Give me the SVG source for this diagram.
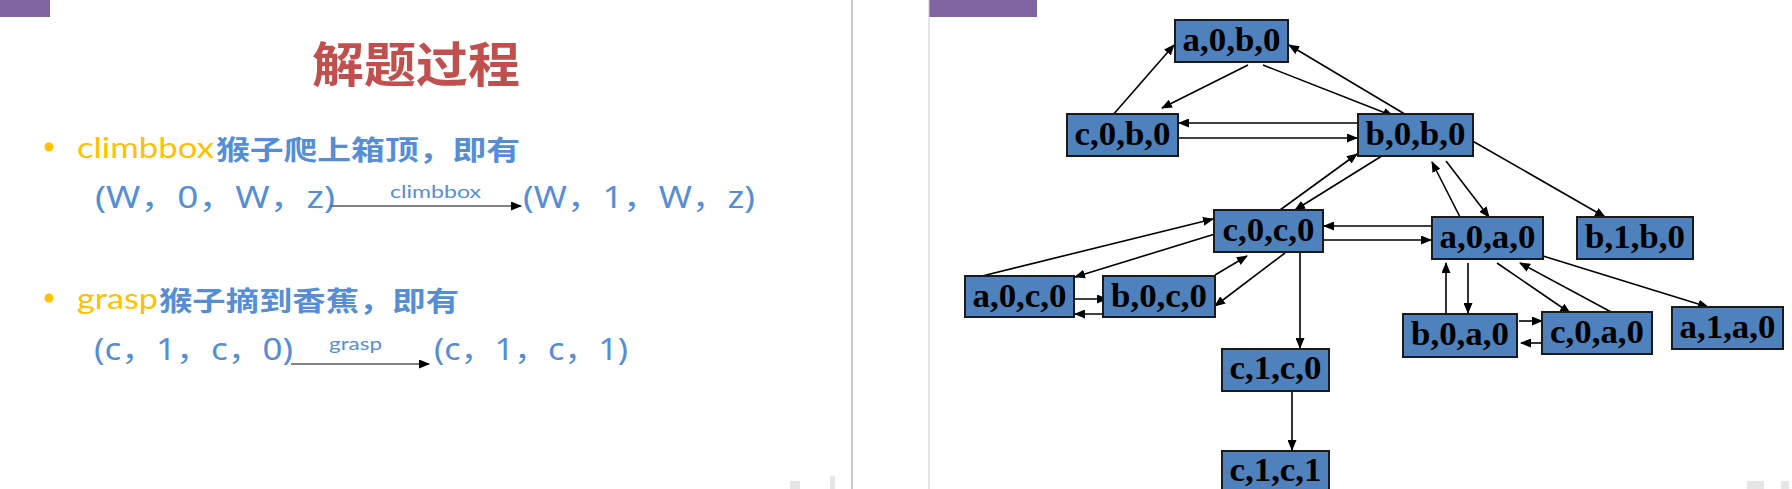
<svg xmlns="http://www.w3.org/2000/svg" width="1792" height="489" viewBox="0 0 1792 489">
<defs>
<marker id="ah" markerUnits="userSpaceOnUse" markerWidth="11" markerHeight="9" refX="10" refY="4.5" orient="auto">
<path d="M0,0 L11,4.5 L0,9 z" fill="#000"/>
</marker>
<style>
.box{fill:#4F81BD;stroke:#1a1a1a;stroke-width:2}
.lbl{font-family:"Liberation Serif","Times New Roman",serif;font-weight:bold;font-size:33px;fill:#000;text-anchor:middle}
.cn line{stroke:#000;stroke-width:1.6;marker-end:url(#ah)}
.blue{fill:#558ED5}
.yel{fill:#FFC000}
.lat{font-family:Lato,"Open Sans","Noto Sans","Noto Sans CJK SC",sans-serif}
.cjk{font-family:"Noto Sans CJK SC","Noto Sans",sans-serif;font-weight:bold}
.tup{font-family:"Noto Sans","Noto Sans CJK SC",sans-serif;font-size:30px}
.sep{stroke:#c8c8c8}
.noise{fill:#b8b8b8;opacity:0.35}
</style>
</defs>
<rect width="1792" height="489" fill="#fff"/>
<!-- slide furniture -->
<rect x="0" y="0" width="50" height="17" fill="#8064A2"/>
<rect x="929" y="0" width="108" height="17" fill="#8064A2"/>
<line class="sep" x1="852" y1="0" x2="852" y2="489" stroke-width="2"/>
<line class="sep" x1="929" y1="0" x2="929" y2="489" stroke-width="1"/>
<rect class="noise" x="790" y="481" width="10" height="8"/>
<rect class="noise" x="830" y="476" width="5" height="13"/>
<rect class="noise" x="1747" y="481" width="17" height="8"/>
<rect class="noise" x="1781" y="481" width="8" height="8"/>

<!-- left slide -->
<g id="left-slide">
<text x="312" y="82" class="cjk" font-size="48" fill="#C0504D" textLength="208" lengthAdjust="spacingAndGlyphs">解题过程</text>
<circle cx="49" cy="147" r="4.5" class="yel"/>
<text x="77" y="158" class="lat yel" font-size="29" textLength="137" lengthAdjust="spacingAndGlyphs">climbbox</text>
<text x="216" y="160" class="cjk blue" font-size="27" textLength="304" lengthAdjust="spacingAndGlyphs">猴子爬上箱顶，即有</text>
<text x="95" y="208" class="tup blue" textLength="240" lengthAdjust="spacingAndGlyphs">(W，0，W，z)</text>
<line x1="331" y1="206" x2="521" y2="206" stroke="#595959" stroke-width="1.3" marker-end="url(#ah)"/>
<text x="390" y="198" class="lat blue" font-size="18" textLength="91" lengthAdjust="spacingAndGlyphs">climbbox</text>
<text x="523" y="208" class="tup blue" textLength="232" lengthAdjust="spacingAndGlyphs">(W，1，W，z)</text>
<circle cx="49" cy="298" r="4.5" class="yel"/>
<text x="77" y="309" class="lat yel" font-size="29" textLength="81" lengthAdjust="spacingAndGlyphs">grasp</text>
<text x="159" y="311" class="cjk blue" font-size="27" textLength="300" lengthAdjust="spacingAndGlyphs">猴子摘到香蕉，即有</text>
<text x="94" y="360" class="tup blue" textLength="199" lengthAdjust="spacingAndGlyphs">(c，1，c，0)</text>
<line x1="291" y1="364" x2="429" y2="364" stroke="#595959" stroke-width="1.3" marker-end="url(#ah)"/>
<text x="329" y="350" class="lat blue" font-size="18" textLength="53" lengthAdjust="spacingAndGlyphs">grasp</text>
<text x="434" y="360" class="tup blue" textLength="194" lengthAdjust="spacingAndGlyphs">(c，1，c，1)</text>
</g>

<!-- connectors -->
<g id="connectors" class="cn">
<line x1="1112" y1="116" x2="1174" y2="45"/>
<line x1="1248" y1="65" x2="1162" y2="108"/>
<line x1="1263" y1="65" x2="1393" y2="116"/>
<line x1="1408" y1="116" x2="1289" y2="45"/>
<line x1="1358" y1="123" x2="1179" y2="123"/>
<line x1="1178" y1="138" x2="1357" y2="138"/>
<line x1="1280" y1="210" x2="1357" y2="154"/>
<line x1="1385" y1="154" x2="1295" y2="210"/>
<line x1="1432" y1="226" x2="1324" y2="226"/>
<line x1="1323" y1="240" x2="1431" y2="240"/>
<line x1="1460" y1="217" x2="1432" y2="162"/>
<line x1="1446" y1="161" x2="1489" y2="217"/>
<line x1="1469" y1="139" x2="1605" y2="217"/>
<line x1="1543" y1="256" x2="1708" y2="307"/>
<line x1="978" y1="277" x2="1213" y2="219"/>
<line x1="1215" y1="234" x2="1075" y2="277"/>
<line x1="1215" y1="275" x2="1247" y2="256"/>
<line x1="1285" y1="253" x2="1215" y2="306"/>
<line x1="1074" y1="299" x2="1107" y2="299"/>
<line x1="1110" y1="314" x2="1075" y2="314"/>
<line x1="1300" y1="252" x2="1300" y2="348"/>
<line x1="1292" y1="391" x2="1292" y2="450"/>
<line x1="1446" y1="314" x2="1446" y2="263"/>
<line x1="1468" y1="263" x2="1468" y2="313"/>
<line x1="1497" y1="263" x2="1570" y2="313"/>
<line x1="1613" y1="313" x2="1520" y2="263"/>
<line x1="1519" y1="321" x2="1542" y2="321"/>
<line x1="1542" y1="343" x2="1521" y2="343"/>
</g>

<!-- nodes -->
<g id="n-a0b0"><rect class="box" x="1175" y="20" width="113" height="42"/><text class="lbl" x="1231.5" y="51" textLength="98" lengthAdjust="spacingAndGlyphs">a,0,b,0</text></g>
<g id="n-c0b0"><rect class="box" x="1067" y="114" width="111" height="42"/><text class="lbl" x="1122.5" y="145" textLength="96" lengthAdjust="spacingAndGlyphs">c,0,b,0</text></g>
<g id="n-b0b0"><rect class="box" x="1358" y="114" width="115" height="42"/><text class="lbl" x="1415.5" y="145" textLength="100" lengthAdjust="spacingAndGlyphs">b,0,b,0</text></g>
<g id="n-c0c0"><rect class="box" x="1214" y="210" width="109" height="42"/><text class="lbl" x="1268.5" y="241" textLength="92" lengthAdjust="spacingAndGlyphs">c,0,c,0</text></g>
<g id="n-a0c0"><rect class="box" x="965" y="276" width="109" height="41"/><text class="lbl" x="1019.5" y="306.5" textLength="94" lengthAdjust="spacingAndGlyphs">a,0,c,0</text></g>
<g id="n-b0c0"><rect class="box" x="1103" y="276" width="112" height="41"/><text class="lbl" x="1159" y="306.5" textLength="96" lengthAdjust="spacingAndGlyphs">b,0,c,0</text></g>
<g id="n-c1c0"><rect class="box" x="1222" y="349" width="107" height="42"/><text class="lbl" x="1275.5" y="379" textLength="92" lengthAdjust="spacingAndGlyphs">c,1,c,0</text></g>
<g id="n-c1c1"><rect class="box" x="1222" y="451" width="107" height="42"/><text class="lbl" x="1275.5" y="480.5" textLength="92" lengthAdjust="spacingAndGlyphs">c,1,c,1</text></g>
<g id="n-a0a0"><rect class="box" x="1432" y="217" width="111" height="42"/><text class="lbl" x="1487.5" y="247.5" textLength="96" lengthAdjust="spacingAndGlyphs">a,0,a,0</text></g>
<g id="n-b1b0"><rect class="box" x="1577" y="217" width="116" height="42"/><text class="lbl" x="1635" y="247.5" textLength="100" lengthAdjust="spacingAndGlyphs">b,1,b,0</text></g>
<g id="n-b0a0"><rect class="box" x="1403" y="314" width="114" height="43"/><text class="lbl" x="1460" y="345" textLength="98" lengthAdjust="spacingAndGlyphs">b,0,a,0</text></g>
<g id="n-c0a0"><rect class="box" x="1542" y="312" width="110" height="42"/><text class="lbl" x="1597" y="342.5" textLength="94" lengthAdjust="spacingAndGlyphs">c,0,a,0</text></g>
<g id="n-a1a0"><rect class="box" x="1672" y="307" width="111" height="42"/><text class="lbl" x="1727.5" y="337.5" textLength="96" lengthAdjust="spacingAndGlyphs">a,1,a,0</text></g>
</svg>
